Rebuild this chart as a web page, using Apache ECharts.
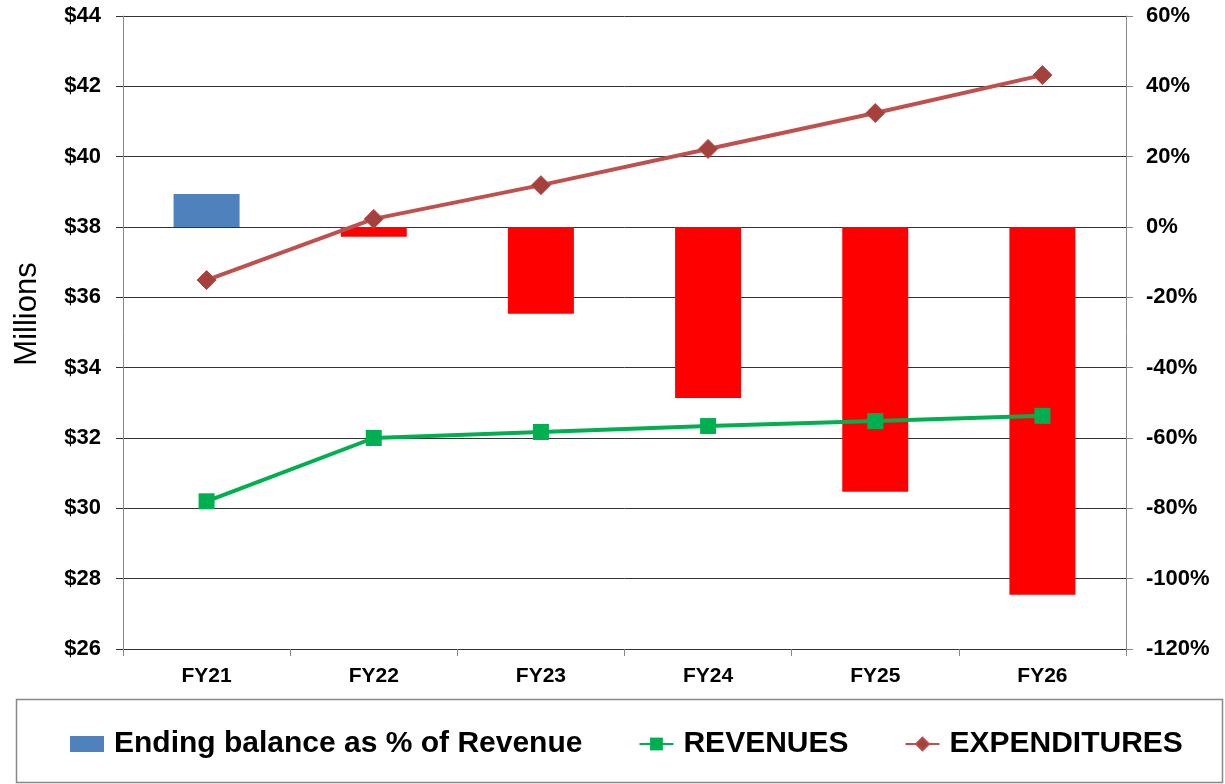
<!DOCTYPE html>
<html><head><meta charset="utf-8">
<script src="https://cdn.jsdelivr.net/npm/echarts@6/dist/echarts.min.js"></script>
<style>html,body{margin:0;padding:0;background:#fff}#c{width:1225px;height:784px}</style>
</head><body><div id="c"></div>
<script>
const categories = ['FY21','FY22','FY23','FY24','FY25','FY26'];
const endingBalancePct = [9.4, -2.8, -24.7, -48.6, -75.3, -104.6];
const revenues = [30.2, 32.0, 32.17, 32.34, 32.48, 32.63];
const expenditures = [36.49, 38.23, 39.19, 40.22, 41.24, 42.32];
const leftTickLabels = v => '$' + v;
const rightTickLabels = v => v + '%';
const FONT = '"Liberation Sans", Arial, sans-serif';

const chart = echarts.init(document.getElementById('c'), null, {renderer:'canvas'});
chart.setOption({
  animation:false,
  backgroundColor:'#fff',
  textStyle:{fontFamily:FONT},
  grid:{left:123, right:99, top:16, bottom:135, containLabel:false},
  graphic:[
    {type:'rect', shape:{x:16.5, y:699.5, width:1206, height:83}, style:{fill:'none', stroke:'#888', lineWidth:1.5}, z:-1},
    {type:'text', x:27, y:314, rotation:Math.PI/2, style:{text:'Millions', fontSize:31, fill:'#000', fontFamily:FONT, align:'center', verticalAlign:'middle'}}
  ],
  legend:{
    left:65, top:724, itemGap:56, itemWidth:34, itemHeight:16,
    textStyle:{fontSize:30, fontWeight:'bold', color:'#000', fontFamily:FONT, padding:[0,0,0,5]},
    data:[
      {name:'Ending balance as % of Revenue', icon:'rect', itemStyle:{color:'#4F81BD'}},
      {name:'REVENUES'},
      {name:'EXPENDITURES'}
    ]
  },
  xAxis:{
    type:'category', data:categories, boundaryGap:true,
    axisLine:{onZero:false, lineStyle:{color:'#333', width:1}},
    axisTick:{show:true, alignWithLabel:false, length:7, lineStyle:{color:'#888'}},
    axisLabel:{fontSize:21, fontWeight:'bold', color:'#000', margin:17, fontFamily:FONT}
  },
  yAxis:[{
    type:'value', min:26, max:44, interval:2, position:'left',
    axisLine:{show:true, lineStyle:{color:'#888', width:1}},
    axisTick:{show:true, length:7, lineStyle:{color:'#333'}},
    splitLine:{show:true, lineStyle:{color:'#333', width:1}},
    axisLabel:{fontSize:22, fontWeight:'bold', color:'#000', margin:22, formatter:leftTickLabels, fontFamily:FONT}
  },{
    type:'value', min:-120, max:60, interval:20, position:'right',
    axisLine:{show:true, lineStyle:{color:'#888', width:1}},
    axisTick:{show:true, length:7, lineStyle:{color:'#888'}},
    splitLine:{show:false},
    axisLabel:{fontSize:22, fontWeight:'bold', color:'#000', margin:20, formatter:rightTickLabels, fontFamily:FONT}
  }],
  series:[{
    name:'Ending balance as % of Revenue', type:'bar', yAxisIndex:1, barWidth:66, z:1,
    data:endingBalancePct,
    itemStyle:{color:p=>p.value>=0?'#4F81BD':'#FF0000'}
  },{
    name:'REVENUES', type:'line', yAxisIndex:0, data:revenues, z:3,
    symbol:'rect', symbolSize:16, showAllSymbol:true,
    lineStyle:{color:'#00B050', width:4},
    itemStyle:{color:'#00B050'}
  },{
    name:'EXPENDITURES', type:'line', yAxisIndex:0, data:expenditures, z:3,
    symbol:'diamond', symbolSize:19, showAllSymbol:true,
    lineStyle:{color:'#C0504D', width:4},
    itemStyle:{color:'#A5403D', borderColor:'#B84A47', borderWidth:1}
  }]
});
</script></body></html>
